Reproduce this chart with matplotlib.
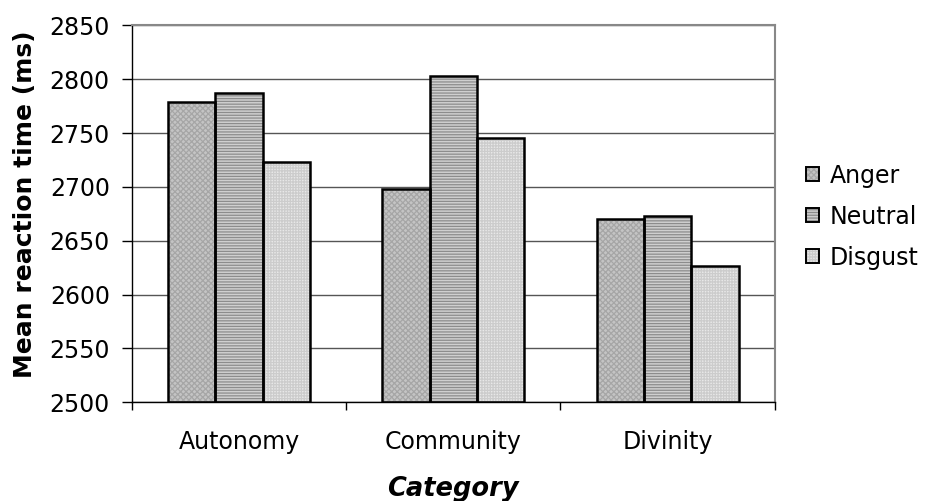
import matplotlib
matplotlib.use("Agg")
import matplotlib.pyplot as plt
import numpy as np
from matplotlib.patches import Patch
from matplotlib.legend_handler import HandlerTuple

categories = ["Autonomy", "Community", "Divinity"]
series = ["Anger", "Neutral", "Disgust"]
anger = [2779, 2698, 2670]
neutral = [2787, 2803, 2673]
disgust = [2723, 2745, 2627]
yticks = [2500, 2550, 2600, 2650, 2700, 2750, 2800, 2850]

plt.rcParams["font.family"] = ["DejaVu Sans"]
plt.rcParams["hatch.linewidth"] = 0.9

# fill styles: (face colour, hatch, hatch colour)
styles = [
    ("#c4c4c4", "xxxxxx", "#a6a6a6"),
    ("#cfcfcf", "------", "#8c8c8c"),
    ("#e8e8e8", "++++++", "#cccccc"),
]

W, H = 925, 501
fig = plt.figure(figsize=(W / 100, H / 100), dpi=100)
L, R, T, B = 132, 774.7, 25.3, 402.3
ax = fig.add_axes([L / W, 1 - B / H, (R - L) / W, (B - T) / H])

x = np.arange(len(categories))
width = 0.221
base = yticks[0]
values = [anger, neutral, disgust]
for i, (vals, (fc, hatch, hc)) in enumerate(zip(values, styles)):
    pos = x + (i - 1) * width
    heights = [v - base for v in vals]
    ax.bar(pos, heights, width, bottom=base, color=fc, hatch=hatch,
           edgecolor=hc, linewidth=0, zorder=2)
    ax.bar(pos, heights, width, bottom=base, facecolor="none",
           edgecolor="black", linewidth=1.8, zorder=3)

fs = 17
ax.set_ylim(2500, 2850)
ax.set_xlim(-0.5, 2.5)
ax.set_yticks(yticks)
ax.set_yticklabels([str(t) for t in yticks], fontsize=fs)
ax.set_xticks(x)
ax.set_xticklabels(categories, fontsize=fs)
ax.tick_params(axis="x", length=0, pad=20)
ax.set_xticks([-0.5, 0.5, 1.5, 2.5], minor=True)
ax.tick_params(axis="x", which="minor", length=6, width=1, direction="out")
ax.tick_params(axis="y", length=7, width=1, direction="out", pad=9)

ax.yaxis.grid(True, color="#555555", linewidth=1.0, zorder=0)
ax.set_axisbelow(True)

for side in ["left", "bottom"]:
    ax.spines[side].set_color("black")
    ax.spines[side].set_linewidth(1.0)
for side in ["top", "right"]:
    ax.spines[side].set_color("#888888")
    ax.spines[side].set_linewidth(1.5)

ax.set_ylabel("Mean reaction time (ms)", fontsize=18, fontweight="bold")
ax.yaxis.set_label_coords((37 - L) / (R - L), (B - 204) / (B - T))
ax.set_xlabel("Category", fontsize=18.5, fontweight="bold", style="italic")
ax.xaxis.set_label_coords(0.5, (B - 476) / (B - T))

handles = []
for fc, h, hc in styles:
    fill = Patch(facecolor=fc, hatch=h, edgecolor=hc, linewidth=0)
    frame = Patch(facecolor="none", edgecolor="black", linewidth=1.4)
    handles.append((fill, frame))
leg = fig.legend(handles, series, loc="center left",
                 bbox_to_anchor=(806 / W, 1 - 216.5 / H),
                 bbox_transform=fig.transFigure,
                 handler_map={tuple: HandlerTuple(ndivide=1, pad=0)},
                 frameon=False, fontsize=fs, handlelength=0.56, handleheight=0.56,
                 handletextpad=0.45, labelspacing=0.72, borderpad=0,
                 borderaxespad=0)

fig.savefig("out.png", dpi=100, facecolor="white")
